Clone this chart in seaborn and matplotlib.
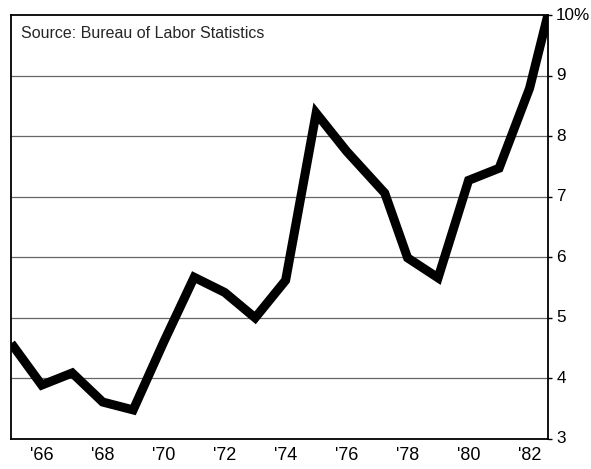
import numpy as np
import pandas as pd
import seaborn as sns
import matplotlib.pyplot as plt

# Unemployment rate
years = [1965, 1966, 1967, 1968, 1969, 1970, 1971, 1972, 1973, 1974,
         1975, 1976, 1977.25, 1978, 1979, 1980, 1981, 1982, 1982.6]
rate = [4.58, 3.89, 4.09, 3.61, 3.48, 4.6, 5.67, 5.42, 5.0, 5.62,
        8.38, 7.75, 7.06, 5.99, 5.66, 7.27, 7.47, 8.79, 10.0]

xticks = [1966, 1968, 1970, 1972, 1974, 1976, 1978, 1980, 1982]
xlabels = ["'66", "'68", "'70", "'72", "'74", "'76", "'78", "'80", "'82"]
yticks = [3, 4, 5, 6, 7, 8, 9, 10]
ylabels = ["3", "4", "5", "6", "7", "8", "9", "10%"]

df = pd.DataFrame({"year": years, "rate": rate})

sns.set_style("white")
plt.rcParams['font.family'] = ['Liberation Sans', 'DejaVu Sans']

fig, ax = plt.subplots(figsize=(5.91, 4.69), dpi=100)
fig.subplots_adjust(left=0.019, right=0.927, top=0.968, bottom=0.064)

sns.lineplot(data=df, x="year", y="rate", color="black", linewidth=6.5,
             solid_joinstyle="miter", solid_capstyle="butt", ax=ax, zorder=3)

ax.set_xlim(1965, 1982.6)
ax.set_ylim(3, 10)

for y in yticks[1:-1]:
    ax.axhline(y, color="#666666", linewidth=0.9, zorder=1)

ax.set_xticks(xticks)
ax.set_xticklabels(xlabels, fontsize=13)
ax.set_yticks(yticks)
ax.set_yticklabels(ylabels, fontsize=12.3)
ax.yaxis.tick_right()
ax.tick_params(axis="x", direction="in", length=6, width=1.2, pad=6, colors="black")
ax.tick_params(axis="y", direction="out", length=3, width=1, pad=3, colors="black")
for lab in ax.get_yticklabels():
    lab.set_verticalalignment("center")

for s in ax.spines.values():
    s.set_color("black")
    s.set_linewidth(1.3)

ax.set_xlabel("")
ax.set_ylabel("")
ax.text(0.018, 0.975, "Source: Bureau of Labor Statistics", transform=ax.transAxes,
        fontsize=11.5, va="top", ha="left")

fig.savefig("out.png", dpi=100)
